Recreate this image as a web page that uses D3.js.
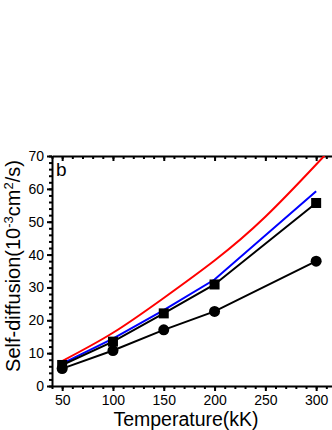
<!DOCTYPE html>
<html><head><meta charset="utf-8">
<script src="https://cdn.jsdelivr.net/npm/d3@7"></script>
<style>body{margin:0;background:#fff}svg{display:block}</style>
</head><body>
<script>
const temps = [50, 100, 150, 200, 300];
const circleVals = [5.3, 10.8, 17.1, 22.7, 38.0];
const squareVals = [6.4, 13.5, 22.1, 30.9, 55.7];
const blueVals = [6.8, 14.4, 23.1, 32.4, 59.3];
const redTemps = [50, 100, 150, 200, 250, 300, 320];
const redVals = [7.6, 16.2, 26.8, 38.2, 51.5, 67.4, 74.0];
const xTicks = [50, 100, 150, 200, 250, 300];
const yTicks = [0, 10, 20, 30, 40, 50, 60, 70];

(function () {
const W = 332, H = 430;
const svg = d3.select("body").append("svg").attr("width", W).attr("height", H);
const pl = 52, pt = 156, pb = 386;
const x = d3.scaleLinear().domain([40, 320]).range([pl, pl + 280 * 1.016]);
const y = d3.scaleLinear().domain([0, 70]).range([pb, pt]);
const font = "'Liberation Sans', Arial, sans-serif";

svg.append("clipPath").attr("id", "c").append("rect")
  .attr("x", pl).attr("y", pt).attr("width", W - pl).attr("height", pb - pt);

const g = svg.append("g");
const xMinor = d3.range(40, 321, 10);
const yMinor = d3.range(0, 71, 2);
const bx = g.append("g").attr("transform", `translate(0,${pb})`)
  .call(d3.axisBottom(x).tickValues(xTicks).tickSize(5).tickSizeOuter(0).tickFormat(d3.format("d")));
bx.selectAll(".tick text").attr("font-family", font).attr("font-size", 14).attr("y", 19).attr("dy", 0);
g.append("g").attr("transform", `translate(0,${pb})`)
  .call(d3.axisBottom(x).tickValues(xMinor).tickSize(3).tickFormat(""))
  .call(s => s.select(".domain").remove());
g.append("g").attr("transform", `translate(0,${pt})`)
  .call(d3.axisBottom(x).tickValues(xTicks).tickSize(5).tickSizeOuter(0).tickFormat(""));
g.append("g").attr("transform", `translate(0,${pt})`)
  .call(d3.axisBottom(x).tickValues(xMinor).tickSize(3).tickFormat(""))
  .call(s => s.select(".domain").remove());
const ly = g.append("g").attr("transform", `translate(${pl},0)`)
  .call(d3.axisLeft(y).tickValues(yTicks).tickSize(5).tickSizeOuter(0).tickPadding(3));
ly.selectAll(".tick text").attr("font-family", font).attr("font-size", 14);
g.append("g").attr("transform", `translate(${pl},0)`)
  .call(d3.axisLeft(y).tickValues(yMinor).tickSize(3).tickFormat(""))
  .call(s => s.select(".domain").remove());
g.selectAll(".domain, .tick line").attr("stroke", "#000").attr("stroke-width", 2);
g.selectAll(".tick text").attr("fill", "#000");

const plot = svg.append("g").attr("clip-path", "url(#c)");
const curve = d3.line().x(d => x(d[0])).y(d => y(d[1])).curve(d3.curveNatural);
const lin = d3.line().x(d => x(d[0])).y(d => y(d[1]));
plot.append("path").datum(redTemps.map((t, i) => [t, redVals[i]]))
  .attr("d", curve).attr("fill", "none").attr("stroke", "#ff0000").attr("stroke-width", 2);
plot.append("path").datum(temps.map((t, i) => [t, blueVals[i]]))
  .attr("d", lin).attr("fill", "none").attr("stroke", "#0000ff").attr("stroke-width", 2);
plot.append("path").datum(temps.map((t, i) => [t, squareVals[i]]))
  .attr("d", lin).attr("fill", "none").attr("stroke", "#000").attr("stroke-width", 2);
plot.append("path").datum(temps.map((t, i) => [t, circleVals[i]]))
  .attr("d", lin).attr("fill", "none").attr("stroke", "#000").attr("stroke-width", 2);
svg.append("g").selectAll("rect").data(temps.map((t, i) => [t, squareVals[i]])).join("rect")
  .attr("x", d => x(d[0]) - 5).attr("y", d => y(d[1]) - 5).attr("width", 10).attr("height", 10).attr("fill", "#000");
svg.append("g").selectAll("circle").data(temps.map((t, i) => [t, circleVals[i]])).join("circle")
  .attr("cx", d => x(d[0])).attr("cy", d => y(d[1])).attr("r", 5.5).attr("fill", "#000");

svg.append("text").attr("x", pl + 4).attr("y", pt + 20).attr("font-family", font)
  .attr("font-size", 19).text("b");

svg.append("text").attr("x", 186).attr("y", 426).attr("text-anchor", "middle")
  .attr("font-family", font).attr("font-size", 19.5).text("Temperature(kK)");
const yt = svg.append("text").attr("transform", `translate(20,266) rotate(-90)`)
  .attr("text-anchor", "middle").attr("font-family", font).attr("font-size", 20);
yt.append("tspan").text("Self-diffusion(10");
yt.append("tspan").attr("baseline-shift", "super").attr("font-size", 13).text("-3");
yt.append("tspan").text("cm");
yt.append("tspan").attr("baseline-shift", "super").attr("font-size", 13).text("2");
yt.append("tspan").text("/s)");
})();
</script>
</body></html>
